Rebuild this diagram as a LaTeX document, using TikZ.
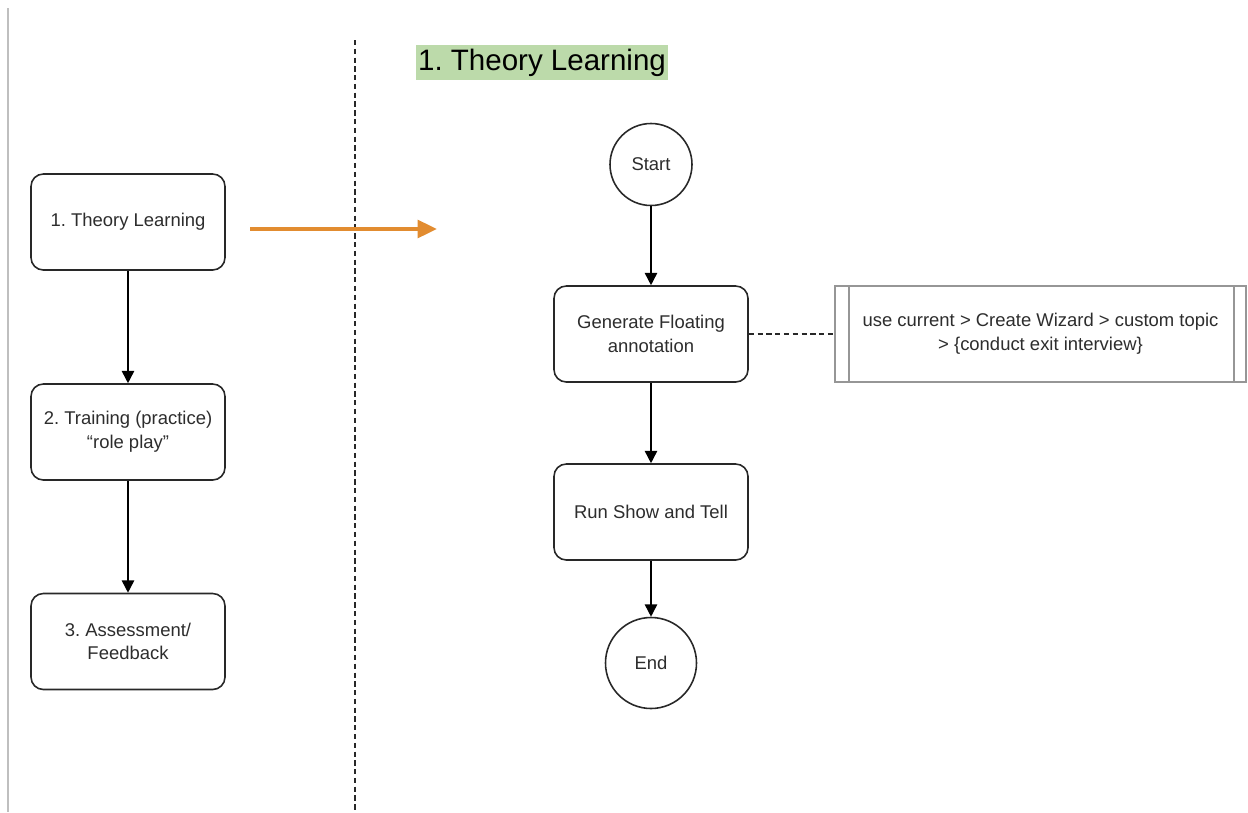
\documentclass[tikz,border=0pt]{standalone}
\usepackage{fontspec}
\setmainfont{Liberation Sans}
\frenchspacing
\usetikzlibrary{arrows.meta,shapes.misc}
\definecolor{edge}{RGB}{40,40,40}
\definecolor{txt}{RGB}{45,45,45}
\definecolor{orangeArr}{RGB}{226,140,48}
\definecolor{titlegreen}{RGB}{188,218,170}
\definecolor{annot}{RGB}{150,150,150}
\tikzset{
  box/.style={draw=edge, line width=0.9pt, rounded corners=7pt, minimum width=194*0.02cm, minimum height=96*0.02cm, align=center, text=txt, font=\fontsize{10.5pt}{13.5pt}\selectfont, inner sep=0pt},
  term/.style={draw=edge, line width=0.9pt, circle, align=center, text=txt, font=\fontsize{10.5pt}{13.5pt}\selectfont, inner sep=0pt},
  flow/.style={-{Triangle[length=7pt,width=7pt]}, line width=0.9pt, draw=black},
}
\begin{document}
\begin{tikzpicture}[x=0.02cm,y=-0.02cm]
\useasboundingbox (0,0) rectangle (1248,812);
\fill[white] (0,0) rectangle (1248,812);
% left border line
\draw[gray!50, line width=0.8pt] (8,8) -- (8,812);
% dashed divider
\draw[edge, line width=0.7pt, dash pattern=on 3pt off 2pt] (355,40) -- (355,812);
% title
\node[fill=titlegreen, minimum width=252*0.02cm, minimum height=35*0.02cm, inner sep=0pt, font=\fontsize{16.8pt}{20pt}\selectfont, text=black] (title) at (542,62.5) {1. Theory Learning};
% left flow
\node[box] (L1) at (128,222) {1. Theory Learning};
\node[box] (L2) at (128,432) {2. Training (practice)\\“role play”};
\node[box] (L3) at (128,641.5) {3. Assessment/\\Feedback};
\draw[flow] (L1) -- (L2);
\draw[flow] (L2) -- (L3);
% orange arrow
\coordinate (oa) at (250,229);
\coordinate (ob) at (437,229);
\draw[orangeArr, line width=2.2pt, -{Triangle[length=11pt,width=10pt]}] (oa) -- (ob);
% right flow
\node[term, minimum size=82*0.02cm] (S) at (651,164.5) {Start};
\node[box] (G) at (651,334) {Generate Floating\\annotation};
\node[box] (R) at (651,512) {Run Show and Tell};
\node[term, minimum size=91*0.02cm] (E) at (651,663) {End};
\draw[flow] (S) -- (G);
\draw[flow] (G) -- (R);
\draw[flow] (R) -- (E);
% annotation
\node[draw=annot, line width=0.8pt, minimum width=411*0.02cm, minimum height=96*0.02cm, inner sep=0pt, align=center, text=txt, font=\fontsize{10.5pt}{13.5pt}\selectfont] (A) at (1040.5,334) {use current > Create Wizard > custom topic\\> \{conduct exit interview\}};
\draw[annot, line width=0.8pt] (849,286) -- (849,382);
\draw[annot, line width=0.8pt] (1234,286) -- (1234,382);
\draw[edge, line width=0.7pt, dash pattern=on 3pt off 2pt] (G) -- (A);
\end{tikzpicture}
\end{document}
